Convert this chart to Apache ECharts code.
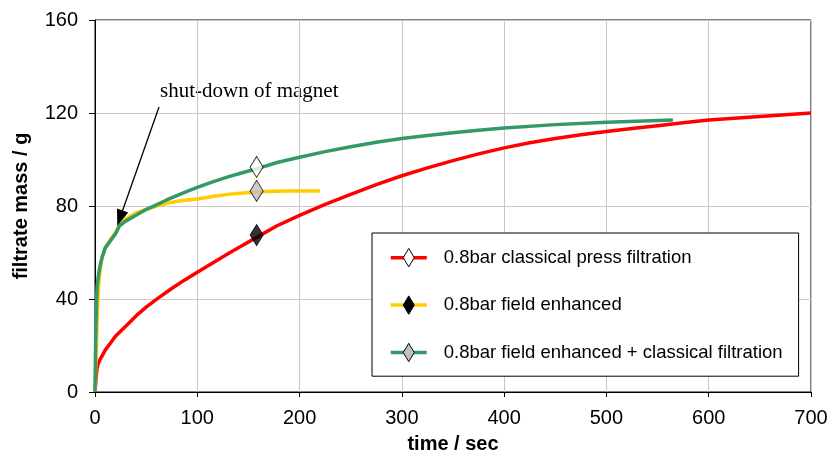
<!DOCTYPE html>
<html>
<head>
<meta charset="utf-8">
<script src="https://cdn.jsdelivr.net/npm/echarts@6/dist/echarts.min.js"></script>
<style>
  html, body { margin: 0; padding: 0; background: #fff; }
  #chart { width: 830px; height: 454px; }
</style>
</head>
<body>
<div id="chart"></div>
<script>
  // time / sec, filtrate mass / g
  var classical = [
    [0, 0], [1, 6], [2, 10], [3, 12], [5, 14], [7.5, 16], [10, 18], [15, 21],
    [20, 24], [27, 27], [34, 30], [42, 33.5], [50, 36.5], [62, 40.5], [75, 44.5],
    [87, 48], [100, 51.5], [115, 55.5], [130, 59.5], [144, 63], [158, 66.5],
    [178, 71.5], [200, 76], [225, 80.7], [250, 85], [275, 89.2], [300, 93],
    [325, 96.4], [350, 99.5], [375, 102.4], [400, 105], [425, 107.2], [450, 109],
    [475, 110.6], [500, 112], [525, 113.3], [550, 114.5], [575, 115.8],
    [600, 117], [650, 118.5], [700, 120]
  ];
  var fieldEnhanced = [
    [0, 0], [1, 14], [2, 30], [3, 41], [4, 48], [5.5, 54], [7, 58], [10, 62],
    [15, 65.5], [20, 68.5], [24, 72], [30, 74.5], [40, 77], [50, 78.5], [60, 80],
    [70, 81.2], [80, 82], [90, 82.6], [100, 83], [115, 84.1], [130, 85],
    [145, 85.6], [158, 86], [175, 86.3], [190, 86.5], [220, 86.5]
  ];
  var fieldPlusClassical = [
    [0, 0], [0.5, 18], [1, 30], [1.5, 39], [2, 45], [3, 49], [4, 52], [5.5, 55.5],
    [7, 58], [10, 62], [15, 65], [20, 68], [24, 71.5], [30, 73.5], [40, 76],
    [50, 78.5], [60, 80.5], [70, 82.6], [80, 84.5], [90, 86.3], [100, 88],
    [115, 90.4], [130, 92.5], [144, 94.3], [158, 96], [178, 98.7], [200, 101],
    [225, 103.4], [250, 105.5], [275, 107.4], [300, 109], [325, 110.3],
    [350, 111.5], [375, 112.6], [400, 113.5], [450, 115], [500, 116],
    [530, 116.5], [565, 117]
  ];
  // marker points on the curves
  var markClassical = [[158, 67.5]];
  var markField = [[158, 86.5]];
  var markFieldPlus = [[158, 96.8]];
  // annotation arrow (data coords)
  var arrowFrom = [62.6, 122.6];
  var arrowTo = [24.4, 74.8];

  var names = [
    '0.8bar classical press filtration',
    '0.8bar field enhanced',
    '0.8bar field enhanced + classical filtration'
  ];

  // tall diamond inside a square box, so the legend icon is not squashed
  var legendDiamond = 'path://M0,0M20,20M10,0L16,10L10,20L4,10Z';
  var arrowHead = 'path://M6,0L12,16L0,16Z';

  var chart = echarts.init(document.getElementById('chart'), null, { renderer: 'canvas' });

  var font = 'Liberation Sans, Arial, sans-serif';

  var option = {
    animation: false,
    grid: {
      left: 95, right: 19, top: 20, bottom: 62,
      outerBoundsMode: 'none',
      show: true, borderColor: '#000', borderWidth: 1
    },
    legend: {
      orient: 'vertical',
      left: 372, top: 233,
      padding: [15, 16, 14, 17],
      itemGap: 28,
      itemWidth: 36, itemHeight: 23,
      backgroundColor: '#fff',
      borderColor: '#000', borderWidth: 1,
      textStyle: { fontFamily: font, fontSize: 18.5, color: '#000', padding: [0, 0, 0, 12] },
      lineStyle: { width: 3 },
      selectedMode: false,
      data: [
        { name: names[0], itemStyle: { color: '#fff', borderColor: '#000', borderWidth: 1 }, lineStyle: { color: '#ff0000', width: 3.5 } },
        { name: names[1], itemStyle: { color: '#000', borderColor: '#000', borderWidth: 1 }, lineStyle: { color: '#ffcc00', width: 3.5 } },
        { name: names[2], itemStyle: { color: '#c0c0c0', borderColor: '#000', borderWidth: 1 }, lineStyle: { color: '#339966', width: 3.5 } }
      ]
    },
    xAxis: {
      type: 'value', min: 0, max: 700, interval: 100,
      name: 'time / sec', nameLocation: 'middle', nameGap: 42,
      nameTextStyle: { fontFamily: font, fontSize: 20, fontWeight: 'bold', color: '#000' },
      axisLine: { lineStyle: { color: '#000', width: 1 } },
      axisTick: { show: true, inside: false, length: 5, lineStyle: { color: '#000' } },
      axisLabel: { margin: 16, fontFamily: font, fontSize: 20, color: '#000' },
      splitLine: { show: true, lineStyle: { color: '#c8c8c8', width: 1 } }
    },
    yAxis: {
      type: 'value', min: 0, max: 160, interval: 40,
      name: 'filtrate mass / g', nameLocation: 'middle', nameGap: 64,
      nameTextStyle: { fontFamily: font, fontSize: 20, fontWeight: 'bold', color: '#000' },
      axisLine: { show: true, lineStyle: { color: '#000', width: 1 } },
      axisTick: { show: true, inside: false, length: 6, lineStyle: { color: '#000' } },
      axisLabel: { margin: 17, fontFamily: font, fontSize: 20, color: '#000' },
      splitLine: { show: true, lineStyle: { color: '#c8c8c8', width: 1 } }
    },
    graphic: [{
      type: 'text', left: 160, top: 81, silent: true,
      style: { text: 'shut-down of magnet', font: '21px "Liberation Serif", "Times New Roman", serif', fill: '#000' }
    }],
    series: [
      {
        name: names[0], type: 'line', data: classical, showSymbol: false,
        symbol: legendDiamond, symbolSize: 12,
        itemStyle: { color: '#fff', borderColor: '#000', borderWidth: 1 },
        lineStyle: { color: '#ff0000', width: 3.5, join: 'round' }, z: 2
      },
      {
        name: names[1], type: 'line', data: fieldEnhanced, showSymbol: false,
        symbol: legendDiamond, symbolSize: 12,
        itemStyle: { color: '#000', borderColor: '#000', borderWidth: 1 },
        lineStyle: { color: '#ffcc00', width: 3.5, join: 'round' }, z: 3
      },
      {
        name: names[2], type: 'line', data: fieldPlusClassical, showSymbol: false,
        symbol: legendDiamond, symbolSize: 12,
        itemStyle: { color: '#c0c0c0', borderColor: '#000', borderWidth: 1 },
        lineStyle: { color: '#339966', width: 3.5, join: 'round' }, z: 4,
        markLine: {
          silent: true, animation: false,
          symbol: ['none', arrowHead], symbolSize: [12, 16],
          label: { show: false },
          lineStyle: { color: '#000', width: 1.3, type: 'solid' },
          data: [[{ coord: arrowFrom }, { coord: arrowTo }]]
        }
      },
      {
        name: 'mark-classical', type: 'scatter', data: markClassical,
        symbol: 'diamond', symbolSize: [13, 21], z: 6,
        itemStyle: { color: '#000', borderColor: '#000', borderWidth: 1 }
      },
      {
        name: 'mark-field', type: 'scatter', data: markField,
        symbol: 'diamond', symbolSize: [13, 21], z: 6,
        itemStyle: { color: '#c0c0c0', borderColor: '#000', borderWidth: 1 }
      },
      {
        name: 'mark-fieldplus', type: 'scatter', data: markFieldPlus,
        symbol: 'diamond', symbolSize: [13, 21], z: 6,
        itemStyle: { color: '#fff', borderColor: '#000', borderWidth: 1 }
      }
    ]
  };

  chart.setOption(option);
</script>
</body>
</html>
